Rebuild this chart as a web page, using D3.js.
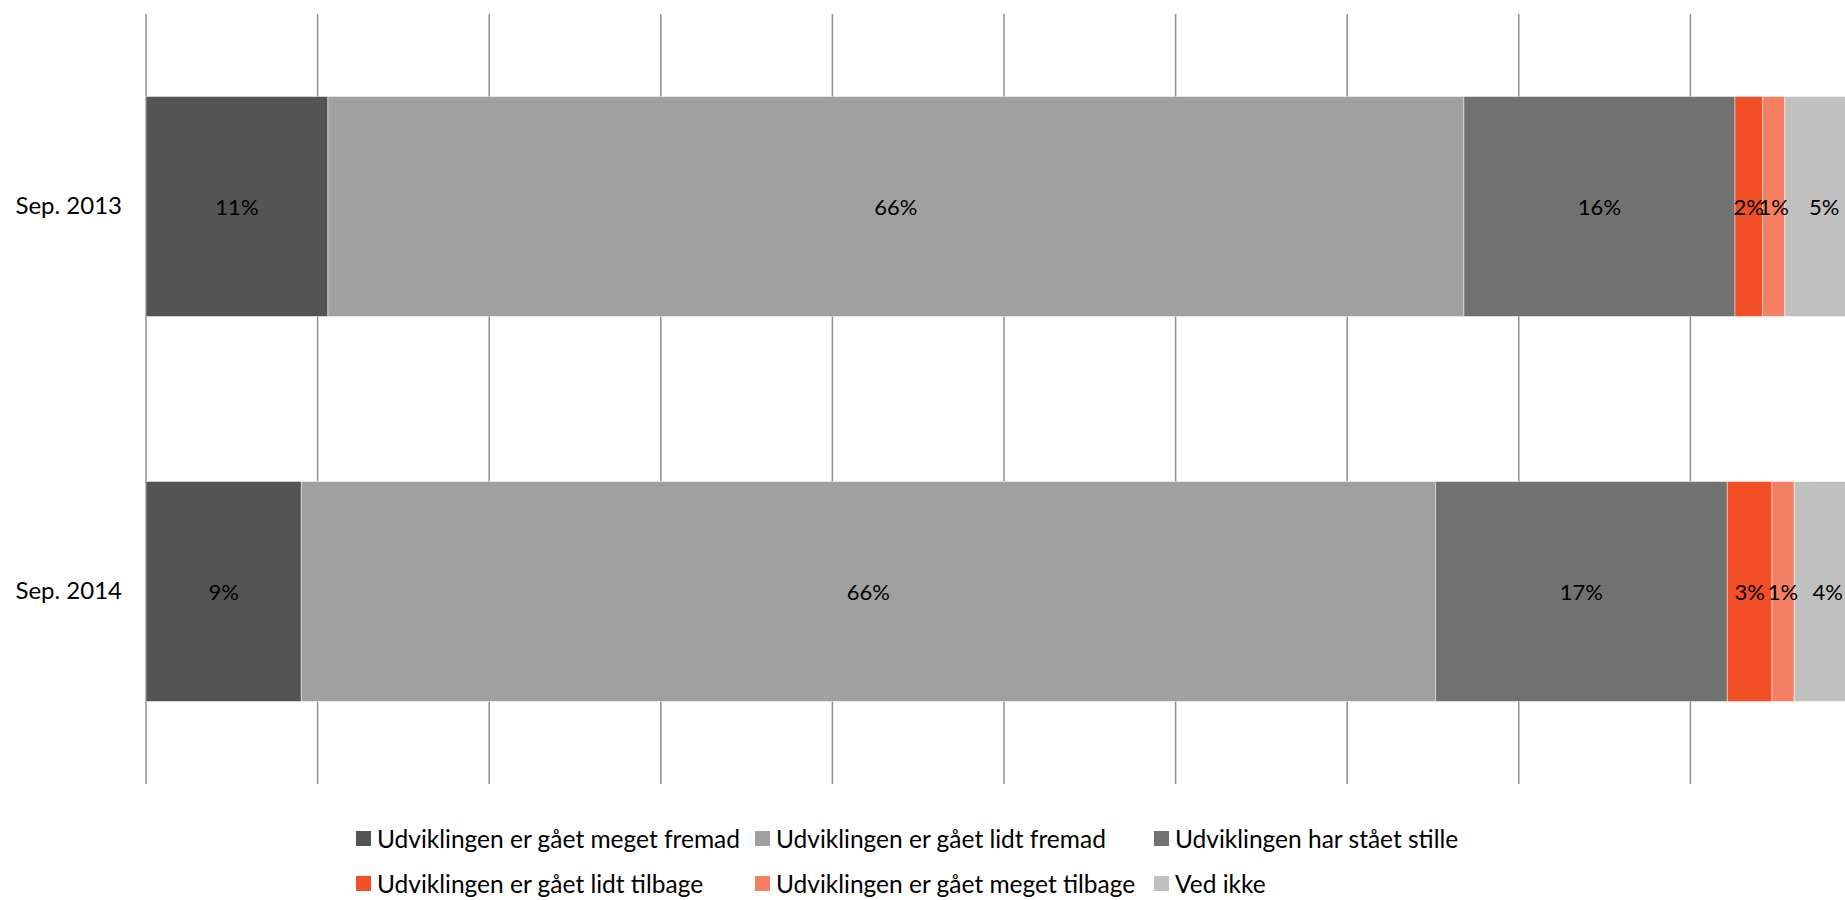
<!DOCTYPE html>
<html>
<head>
<meta charset="utf-8">
<script src="https://cdn.jsdelivr.net/npm/d3@7/dist/d3.min.js"></script>
<style>
  html, body { margin: 0; padding: 0; background: #fff; }
  svg { display: block; font-family: Lato, "Open Sans", sans-serif; }
</style>
</head>
<body>
<svg id="chart" width="1845" height="900"></svg>
<script>
// ---- data ----
const categories = ["Sep. 2013", "Sep. 2014"];
const seriesNames = [
  "Udviklingen er gået meget fremad",
  "Udviklingen er gået lidt fremad",
  "Udviklingen har stået stille",
  "Udviklingen er gået lidt tilbage",
  "Udviklingen er gået meget tilbage",
  "Ved ikke"
];
const meget_fremad  = [0.106, 0.0905];
const lidt_fremad   = [0.662, 0.661];
const staaet_stille = [0.158, 0.170];
const lidt_tilbage  = [0.016, 0.026];
const meget_tilbage = [0.013, 0.013];
const ved_ikke      = [0.046, 0.039];
const seriesValues = [meget_fremad, lidt_fremad, staaet_stille, lidt_tilbage, meget_tilbage, ved_ikke];
const colors = ["#545454", "#a0a0a0", "#717171", "#f24f26", "#f47f63", "#c0c0c0"];
const gridTicks = [0, 0.1, 0.2, 0.3, 0.4, 0.5, 0.6, 0.7, 0.8, 0.9, 1.0];

// ---- layout ----
const svg = d3.select("#chart");
const plotLeft = 146, plotRight = 1862, plotTop = 14, plotBottom = 784;

const x = d3.scaleLinear().domain([0, 1]).range([plotLeft, plotRight]);
const y = d3.scaleBand().domain(categories).range([plotTop, plotBottom])
  .paddingInner(0.4286).paddingOuter(0.2143);

// gridlines
svg.append("g").selectAll("line").data(gridTicks).join("line")
  .attr("x1", d => x(d)).attr("x2", d => x(d))
  .attr("y1", plotTop).attr("y2", plotBottom)
  .attr("stroke", "#8f8f8f").attr("stroke-width", 1.5);

// stack
const rows = categories.map((c, i) => {
  const r = { cat: c };
  seriesNames.forEach((s, j) => r[s] = seriesValues[j][i]);
  return r;
});
const stack = d3.stack().keys(seriesNames)(rows);

const layers = svg.append("g").selectAll("g").data(stack).join("g")
  .attr("fill", (d, i) => colors[i]);

layers.selectAll("rect").data(d => d).join("rect")
  .attr("x", d => x(d[0]))
  .attr("width", d => x(d[1]) - x(d[0]))
  .attr("y", d => y(d.data.cat))
  .attr("height", y.bandwidth())
  .attr("stroke", "#ffffff").attr("stroke-opacity", 0.45).attr("stroke-width", 1);

// labels
const fmt = d3.format(".0%");
const lab = svg.append("g");
stack.forEach(layer => {
  layer.forEach(d => {
    lab.append("text")
      .attr("x", (x(d[0]) + x(d[1])) / 2)
      .attr("y", y(d.data.cat) + y.bandwidth() / 2)
      .attr("text-anchor", "middle")
      .attr("dominant-baseline", "central")
      .attr("font-size", 22)
      .attr("fill", "#000")
      .text(fmt(d[1] - d[0]));
  });
});

// category axis
const yAxis = d3.axisLeft(y).tickSize(0).tickPadding(24);
const ga = svg.append("g").attr("transform", `translate(${plotLeft},0)`).call(yAxis);
ga.select(".domain").remove();
ga.selectAll("text").attr("font-size", 24).attr("fill", "#000")
  .attr("font-family", "Lato, 'Open Sans', sans-serif");

// legend
const legX = [356, 755, 1154];
const legY = [838, 883];
const leg = svg.append("g").selectAll("g").data(seriesNames).join("g")
  .attr("transform", (d, i) => `translate(${legX[i % 3]},${legY[Math.floor(i / 3)]})`);
leg.append("rect").attr("x", 0).attr("y", -7).attr("width", 15).attr("height", 15)
  .attr("fill", (d, i) => colors[i]);
leg.append("text").attr("x", 21).attr("y", 0)
  .attr("dominant-baseline", "central")
  .attr("font-size", 24.5).attr("fill", "#000")
  .text(d => d);
</script>
</body>
</html>
